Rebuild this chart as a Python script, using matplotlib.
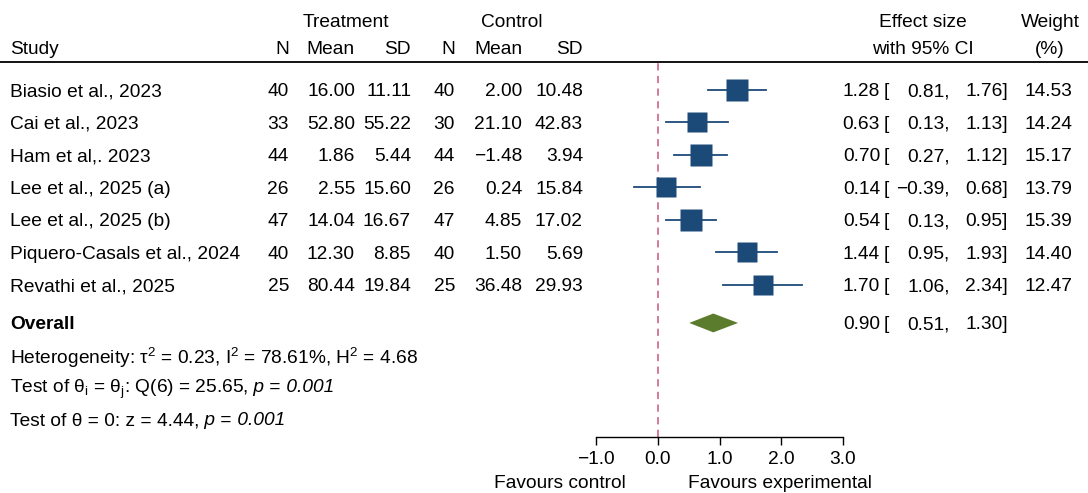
"""
Forest plot: standardized mean differences with random-effects overall estimate.
"""
import numpy as np
import matplotlib.pyplot as plt
from matplotlib.transforms import blended_transform_factory
from matplotlib.lines import Line2D

plt.rcParams["font.family"] = ["Liberation Sans", "DejaVu Sans"]
plt.rcParams["mathtext.fontset"] = "custom"
plt.rcParams["mathtext.rm"] = "Liberation Sans"
plt.rcParams["mathtext.it"] = "Liberation Sans:italic"
plt.rcParams["mathtext.bf"] = "Liberation Sans:bold"

studies = ["Biasio et al., 2023", "Cai et al., 2023", "Ham et al,. 2023",
           "Lee et al., 2025 (a)", "Lee et al., 2025 (b)",
           "Piquero-Casals et al., 2024", "Revathi et al., 2025"]
n_treat = [40, 33, 44, 26, 47, 40, 25]
mean_treat = [16.00, 52.80, 1.86, 2.55, 14.04, 12.30, 80.44]
sd_treat = [11.11, 55.22, 5.44, 15.60, 16.67, 8.85, 19.84]
n_ctrl = [40, 30, 44, 26, 47, 40, 25]
mean_ctrl = [2.00, 21.10, -1.48, 0.24, 4.85, 1.50, 36.48]
sd_ctrl = [10.48, 42.83, 3.94, 15.84, 17.02, 5.69, 29.93]
effect = [1.28, 0.63, 0.70, 0.14, 0.54, 1.44, 1.70]
ci_low = [0.81, 0.13, 0.27, -0.39, 0.13, 0.95, 1.06]
ci_high = [1.76, 1.13, 1.12, 0.68, 0.95, 1.93, 2.34]
weight = [14.53, 14.24, 15.17, 13.79, 15.39, 14.40, 12.47]

overall = (0.90, 0.51, 1.30)
# each stats line is a list of (text, italic) pieces
stats_lines = [
    [(r"Heterogeneity: τ$^{2}$ = 0.23, I$^{2}$ = 78.61%, H$^{2}$ = 4.68", False)],
    [(r"Test of θ$_{\mathrm{i}}$ = θ$_{\mathrm{j}}$: Q(6) = 25.65,", False),
     (" p", True), (" =", False), (" 0.001", True)],
    [("Test of θ = 0: z = 4.44,", False), (" p", True), (" =", False), (" 0.001", True)],
]
xticks = [-1.0, 0.0, 1.0, 2.0, 3.0]

W, H = 1088, 493
BLUE = "#1c4a78"
GREEN = "#5a7c2c"
PINK = "#d2708e"
FS = 13.8


def fmt(v):
    return f"{v:.2f}".replace("-", "\u2212")


fig = plt.figure(figsize=(W / 100, H / 100), dpi=100)
ax = fig.add_axes([596 / W, 1 - 437 / H, (843 - 596) / W, (437 - 62) / H])
ax.set_xlim(-1, 3)
ax.set_ylim(10.68, -0.86)

tr = blended_transform_factory(fig.transFigure, ax.transData)


def col(x_px, y, s, ha="right", **kw):
    return ax.text(x_px / W, y, s, transform=tr, ha=ha, va="center_baseline",
                   fontsize=FS, clip_on=False, **kw)


# header
col(346, -2.15, "Treatment", ha="center")
col(512, -2.15, "Control", ha="center")
col(923, -2.15, "Effect size", ha="center")
col(1050, -2.15, "Weight", ha="center")
col(10, -1.32, "Study", ha="left")
for x, s in [(289, "N"), (355, "Mean"), (411, "SD"), (455, "N"), (522, "Mean"), (583, "SD")]:
    col(x, -1.32, s)
col(923, -1.32, "with 95% CI", ha="center")
col(1050, -1.32, "(%)", ha="center")
fig.add_artist(Line2D([0, 1], [1 - 62 / H] * 2, transform=fig.transFigure,
                      color="black", lw=1.3))

# study rows
ax.axvline(0, color=PINK, ls=(0, (4, 3)), lw=1.3, zorder=1)
side = 15.6 * np.sqrt(np.array(weight) / max(weight))
for i, name in enumerate(studies):
    col(10, i, name, ha="left")
    col(289, i, str(n_treat[i]))
    col(355, i, fmt(mean_treat[i]))
    col(411, i, fmt(sd_treat[i]))
    col(455, i, str(n_ctrl[i]))
    col(522, i, fmt(mean_ctrl[i]))
    col(583, i, fmt(sd_ctrl[i]))
    col(880, i, fmt(effect[i]))
    col(884, i, "[", ha="left")
    col(950, i, fmt(ci_low[i]) + ",")
    col(1008, i, fmt(ci_high[i]) + "]")
    col(1072, i, f"{weight[i]:.2f}")
    ax.plot([ci_low[i], ci_high[i]], [i, i], color=BLUE, lw=1.3, zorder=2)
    ax.plot(effect[i], i, marker="s", ms=side[i], color=BLUE, mec="none", zorder=3)

# overall
yo = 7.17
col(10, yo, "Overall", ha="left", fontweight="bold")
col(880, yo, fmt(overall[0]))
col(884, yo, "[", ha="left")
col(950, yo, fmt(overall[1]) + ",")
col(1008, yo, fmt(overall[2]) + "]")
ax.fill([overall[1], overall[0], overall[2], overall[0]],
        [yo, yo - 0.29, yo, yo + 0.29], color=GREEN, zorder=3, lw=0)

# heterogeneity / test lines, pieces placed one after another
renderer = fig.canvas.get_renderer()
for y, pieces in zip([8.15, 9.1, 10.12], stats_lines):
    x = 10
    for s, italic in pieces:
        t = col(x, y, s, ha="left", fontstyle="italic" if italic else "normal")
        x = t.get_window_extent(renderer).x1

# axis
for s in ["top", "right", "left"]:
    ax.spines[s].set_visible(False)
ax.spines["bottom"].set_linewidth(1.0)
ax.set_yticks([])
ax.set_xticks(xticks)
ax.set_xticklabels([f"{t:.1f}".replace("-", "\u2212") for t in xticks], fontsize=FS)
ax.tick_params(axis="x", length=6, width=1.0, pad=4)

fig.text(560 / W, 1 - 483 / H, "Favours control", ha="center", va="center", fontsize=FS)
fig.text(780 / W, 1 - 483 / H, "Favours experimental", ha="center", va="center", fontsize=FS)

fig.savefig("out.png", dpi=100)
